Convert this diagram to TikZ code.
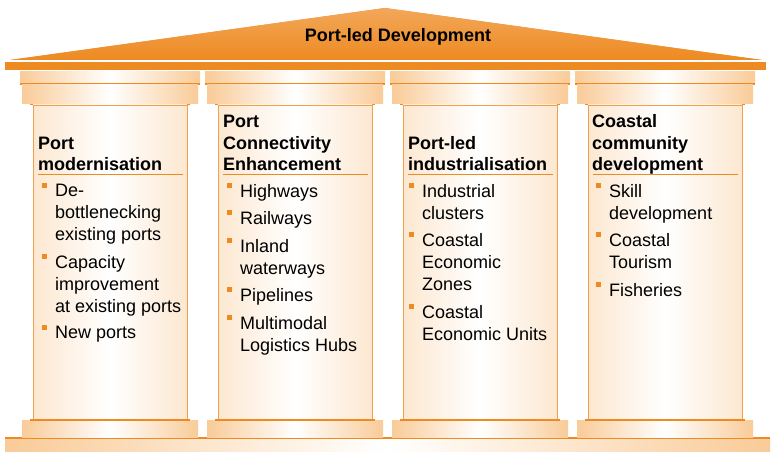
\documentclass[tikz,border=0pt]{standalone}
\usepackage{fontspec}
\setmainfont{Liberation Sans}
\usetikzlibrary{positioning}
\definecolor{portorange}{HTML}{EE8A22}
\definecolor{portpeach}{HTML}{F9CB98}
\tikzset{
  capstone/.style={draw=portorange,line width=1.5pt,left color=portpeach,right color=portpeach,middle color=white},
  shaft/.style={draw=portorange!80,line width=0.8pt,left color=portpeach!45,right color=portpeach!45,middle color=white},
  head/.style={anchor=south west,inner sep=0pt,align=left,text depth=0pt,font=\fontsize{18}{21.5}\selectfont\bfseries},
  itm/.style={anchor=north west,inner sep=0pt,align=left,font=\fontsize{18}{22}\selectfont,text depth=0pt},
}
\newcommand{\bullitem}[3]{% name, placement, text
  \node[itm,#2] (#1) {#3};
  \fill[portorange] ([xshift=-13pt,yshift=-4pt]#1.north west) rectangle ++(5,-5);
}
\begin{document}
\begin{tikzpicture}[x=1pt,y=-1pt]
\useasboundingbox (0,0) rectangle (771,454);
% roof
\fill[portorange,top color=portorange!75,bottom color=portorange] (10,60) -- (385,8) -- (762,60) -- cycle;
\fill[portorange] (5,62) rectangle (766,70);
\node[font=\fontsize{18}{20}\selectfont\bfseries] (title) at (398,37) {Port-led Development};
% plinth
\fill[capstone,draw=none] (5,438) rectangle (770,451);
\draw[portorange,line width=1.5pt] (5,438) -- (770,438);
% pillars
\foreach \x in {0,185,370,555}{
  \fill[capstone,draw=none] (20+\x,72) rectangle (200+\x,84);
  \draw[portorange,line width=1.5pt] (20+\x,84) -- (200+\x,84);
  \fill[capstone,draw=none] (22+\x,85) rectangle (198+\x,104);
  \draw[portorange,line width=1.5pt] (30+\x,104.5) -- (190+\x,104.5);
  \shade[shaft] (33+\x,105) rectangle (187+\x,420);
  \fill[capstone,draw=none] (22+\x,420) rectangle (198+\x,437);
  \draw[portorange,line width=1.5pt] (30+\x,420) -- (190+\x,420);
  \draw[portorange,line width=1] (38+\x,175) -- (183+\x,175);
}
% column 1
\node[head] (h1) at (38,171) {Port\\modernisation};
\bullitem{a1}{at={(55,184)}}{De-\\bottlenecking\\existing ports}
\bullitem{a2}{below=14pt of a1.south west,anchor=north west}{Capacity\\improvement\\at existing ports}
\bullitem{a3}{below=14pt of a2.south west,anchor=north west}{New ports}
% column 2
\node[head] (h2) at (223,171) {Port\\Connectivity\\Enhancement};
\bullitem{b1}{at={(240,184)}}{Highways}
\bullitem{b2}{below=14pt of b1.south west,anchor=north west}{Railways}
\bullitem{b3}{below=14pt of b2.south west,anchor=north west}{Inland\\waterways}
\bullitem{b4}{below=14pt of b3.south west,anchor=north west}{Pipelines}
\bullitem{b5}{below=14pt of b4.south west,anchor=north west}{Multimodal\\Logistics Hubs}
% column 3
\node[head] (h3) at (408,171) {Port-led\\industrialisation};
\bullitem{c1}{at={(422,184)}}{Industrial\\clusters}
\bullitem{c2}{below=14pt of c1.south west,anchor=north west}{Coastal\\Economic\\Zones}
\bullitem{c3}{below=14pt of c2.south west,anchor=north west}{Coastal\\Economic Units}
% column 4
\node[head] (h4) at (592,171) {Coastal\\community\\development};
\bullitem{d1}{at={(609,184)}}{Skill\\development}
\bullitem{d2}{below=14pt of d1.south west,anchor=north west}{Coastal\\Tourism}
\bullitem{d3}{below=14pt of d2.south west,anchor=north west}{Fisheries}
\end{tikzpicture}
\end{document}
